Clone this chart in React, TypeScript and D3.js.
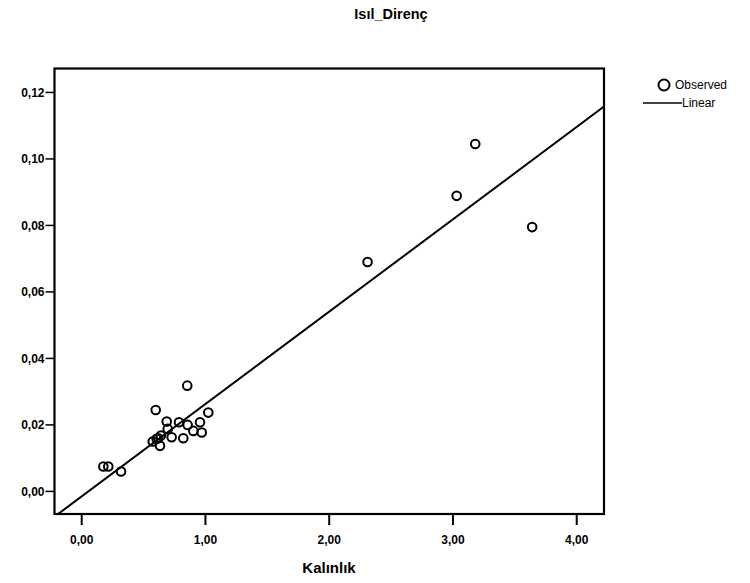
import React from "react";
import * as d3 from "d3";

const title = "Isıl_Direnç";
const xTitle = "Kalınlık";
const xTicks = [0, 1, 2, 3, 4];
const yTicks = [0, 0.02, 0.04, 0.06, 0.08, 0.1, 0.12];
const kalinlik = [
  0.175, 0.215, 0.318,
  0.574, 0.598, 0.605, 0.619, 0.633, 0.64,
  0.687, 0.695, 0.727, 0.786, 0.821, 0.853, 0.856, 0.902, 0.956, 0.970, 1.023,
  2.31, 3.03, 3.18, 3.64,
];
const isilDirenc = [
  0.0075, 0.0075, 0.006,
  0.015, 0.0245, 0.0158, 0.016, 0.0137, 0.0168,
  0.021, 0.0188, 0.0163, 0.0208, 0.016, 0.0318, 0.02, 0.0182, 0.0208, 0.0177, 0.0237,
  0.069, 0.0889, 0.1045, 0.0795,
];
const fitIntercept = -0.0015;
const fitSlope = 0.02778;

const fmt = (v: number, d: number) => v.toFixed(d).replace(".", ",");

export default function App() {
  const W = 750, H = 583;
  const L = 54.5, R = 604, T = 68.5, B = 514;
  const x = d3.scaleLinear().domain([-0.2198, 4.2206]).range([L, R]);
  const y = d3.scaleLinear().domain([-0.0068, 0.1272]).range([B, T]);
  const x0 = x.domain()[0], x1 = x.domain()[1];
  let lx0 = x0, ly0 = fitIntercept + fitSlope * x0;
  const yMin = y.domain()[0];
  if (ly0 < yMin) { lx0 = (yMin - fitIntercept) / fitSlope; ly0 = yMin; }
  const lineGen = d3.line<[number, number]>().x(d => x(d[0])).y(d => y(d[1]));
  const fitPts: [number, number][] = [[lx0, ly0], [x1, fitIntercept + fitSlope * x1]];
  const font = "'Liberation Sans', Arial, sans-serif";
  return (
    <svg width={W} height={H} style={{ position: "absolute", left: 0, top: 0, background: "#fff" }} fontFamily={font}>
      <rect x={0} y={0} width={W} height={H} fill="#fff" />
      <text x={391} y={19} textAnchor="middle" fontSize={14.5} fontWeight="bold">{title}</text>
      <rect x={L} y={T} width={R - L} height={B - T} fill="none" stroke="#000" strokeWidth={2.2} />
      {yTicks.map(t => (
        <g key={"y" + t}>
          <line x1={L - 9} x2={L} y1={y(t)} y2={y(t)} stroke="#000" strokeWidth={1.5} />
          <text x={L - 10} y={y(t)} dy="0.35em" textAnchor="end" fontSize={12} fontWeight="bold">{fmt(t, 2)}</text>
        </g>
      ))}
      {xTicks.map(t => (
        <g key={"x" + t}>
          <line x1={x(t)} x2={x(t)} y1={B} y2={B + 11} stroke="#000" strokeWidth={2} />
          <text x={x(t)} y={B + 26} dy="0.35em" textAnchor="middle" fontSize={12} fontWeight="bold">{fmt(t, 2)}</text>
        </g>
      ))}
      <text x={329} y={573} textAnchor="middle" fontSize={15} fontWeight="bold">{xTitle}</text>
      <path d={lineGen(fitPts) || ""} fill="none" stroke="#000" strokeWidth={2} />
      {kalinlik.map((k, i) => (
        <circle key={i} cx={x(k)} cy={y(isilDirenc[i])} r={4.3} fill="none" stroke="#000" strokeWidth={2} />
      ))}
      <circle cx={664} cy={85} r={5.5} fill="none" stroke="#000" strokeWidth={2} />
      <text x={675} y={85} dy="0.35em" fontSize={12}>Observed</text>
      <line x1={643} x2={682} y1={103} y2={103} stroke="#000" strokeWidth={1.5} />
      <text x={682} y={103} dy="0.35em" fontSize={12}>Linear</text>
    </svg>
  );
}
